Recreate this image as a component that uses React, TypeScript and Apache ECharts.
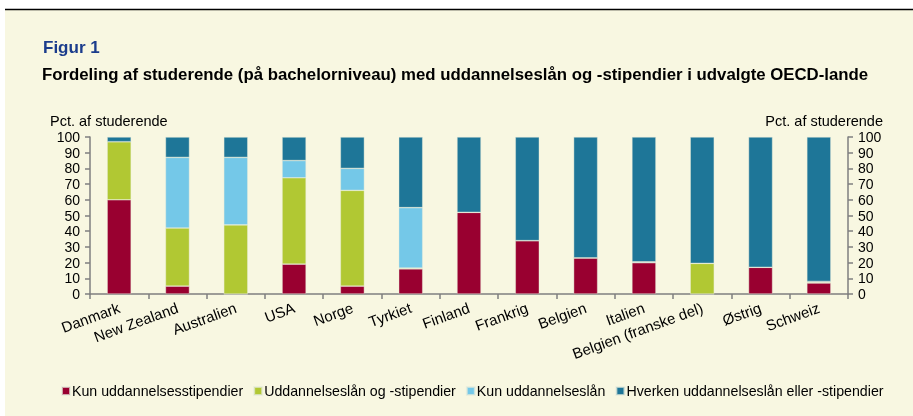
import React, { useEffect, useRef } from "react";
import * as echarts from "echarts";

const categories = [
  "Danmark", "New Zealand", "Australien", "USA", "Norge", "Tyrkiet", "Finland",
  "Frankrig", "Belgien", "Italien", "Belgien (franske del)", "Østrig", "Schweiz",
];
const kunStipendier = [60, 5, 0, 19, 5, 16, 52, 34, 23, 20, 0, 17, 7];
const laanOgStipendier = [37, 37, 44, 55, 61, 0.5, 0, 0, 0, 0, 19.5, 0, 0.5];
const kunLaan = [0, 45, 43, 11, 14, 38.5, 0, 0, 0, 0.5, 0, 0, 0.5];
const hverken = [3, 13, 13, 15, 20, 45, 48, 66, 77, 79.5, 80.5, 83, 92];
const yTicks = [0, 10, 20, 30, 40, 50, 60, 70, 80, 90, 100];

const seriesNames = [
  "Kun uddannelsesstipendier",
  "Uddannelseslån og -stipendier",
  "Kun uddannelseslån",
  "Hverken uddannelseslån eller -stipendier",
];
const colors = ["#990030", "#B1C833", "#74C8E8", "#1E7698"];

export default function App() {
  const ref = useRef<HTMLDivElement>(null);
  useEffect(() => {
    if (!ref.current) return;
    const chart = echarts.init(ref.current, undefined, { renderer: "svg" });
    const font = "'Liberation Sans', Arial, sans-serif";
    const data = [kunStipendier, laanOgStipendier, kunLaan, hverken];
    const yAxisCommon = {
      type: "value" as const,
      min: yTicks[0],
      max: yTicks[yTicks.length - 1],
      interval: 10,
      splitLine: { show: false },
      axisLine: { show: true, lineStyle: { color: "#7f7f7f", width: 1.5 } },
      axisTick: { show: true, length: 5, lineStyle: { color: "#7f7f7f", width: 1.5 } },
      axisLabel: { color: "#000", fontSize: 14, fontFamily: font, margin: 10 },
    };
    chart.setOption({
      animation: false,
      backgroundColor: "transparent",
      color: colors,
      graphic: [
        { type: "rect", shape: { x: 5, y: 10, width: 908, height: 406 }, style: { fill: "#F8F7E1" }, silent: true, z: -10 },
        { type: "line", shape: { x1: 5, y1: 9.5, x2: 913, y2: 9.5 }, style: { stroke: "#000", lineWidth: 1.5 }, silent: true },
        { type: "text", x: 43, y: 39, style: { text: "Figur 1", fill: "#1B3C8C", font: `bold 17px ${font}` } },
        { type: "text", x: 42, y: 66, style: { text: "Fordeling af studerende (på bachelorniveau) med uddannelseslån og -stipendier i udvalgte OECD-lande", fill: "#000", font: `bold 16.8px ${font}` } },
        { type: "text", x: 50, y: 113, style: { text: "Pct. af studerende", fill: "#000", font: `14.5px ${font}` } },
        { type: "text", x: 883, y: 113, style: { text: "Pct. af studerende", fill: "#000", font: `14.5px ${font}`, align: "right" } },
      ],
      grid: { left: 90, right: 65, top: 137, bottom: 122, containLabel: false },
      legend: {
        top: 379,
        left: 56,
        itemWidth: 8,
        itemHeight: 8,
        itemGap: 10,
        icon: "rect",
        textStyle: { fontSize: 14.2, fontFamily: font, color: "#000", padding: [0, 0, 0, -3] },
        data: seriesNames,
      },
      xAxis: {
        type: "category",
        data: categories,
        axisLine: { lineStyle: { color: "#7f7f7f", width: 1.5 } },
        axisTick: { show: true, length: 5, alignWithLabel: false, lineStyle: { color: "#7f7f7f", width: 1.5 } },
        axisLabel: { rotate: 20, interval: 0, color: "#000", fontSize: 15, fontFamily: font, margin: 13 },
      },
      yAxis: [
        { ...yAxisCommon, position: "left" },
        { ...yAxisCommon, position: "right" },
      ],
      series: data.map((d, i) => ({
        name: seriesNames[i],
        type: "bar",
        stack: "total",
        barWidth: 24,
        data: d,
        itemStyle: { color: colors[i], borderColor: "rgba(230,235,220,0.7)", borderWidth: 0.6 },
      })),
    });
    return () => chart.dispose();
  }, []);
  return <div ref={ref} style={{ position: "fixed", left: 0, top: 0, width: 913, height: 416 }} />;
}
